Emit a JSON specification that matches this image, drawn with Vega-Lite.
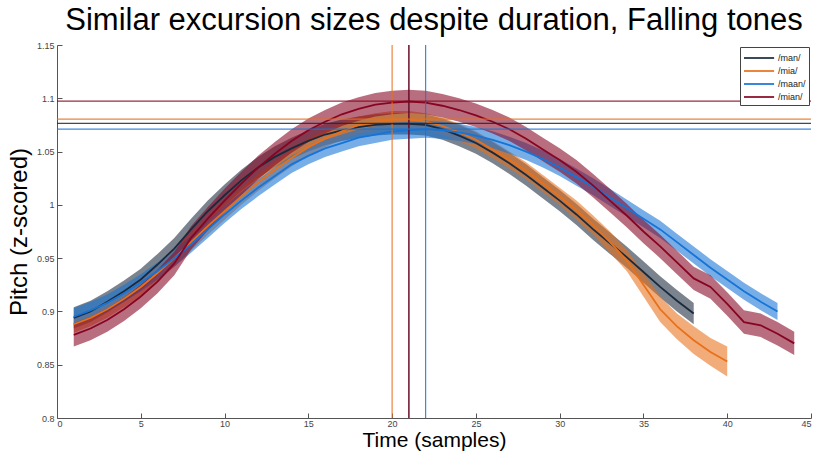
{
  "$schema": "https://vega.github.io/schema/vega-lite/v6.json",
  "width": 754,
  "height": 373,
  "autosize": {"type": "none"},
  "padding": {"left": 57, "top": 45, "right": 5, "bottom": 37},
  "background": "white",
  "config": {
    "font": "Liberation Sans",
    "view": {"stroke": null}
  },
  "title": {
    "text": "Similar excursion sizes despite duration, Falling tones",
    "fontSize": 31,
    "fontWeight": "normal",
    "color": "black",
    "anchor": "middle",
    "offset": 4
  },
  "datasets": {
    "curves": [
      {"s":"/man/","x":1,"y":0.894,"lo":0.884,"hi":0.904},
      {"s":"/man/","x":2,"y":0.900,"lo":0.890,"hi":0.910},
      {"s":"/man/","x":3,"y":0.909,"lo":0.899,"hi":0.919},
      {"s":"/man/","x":4,"y":0.919,"lo":0.909,"hi":0.929},
      {"s":"/man/","x":5,"y":0.930,"lo":0.920,"hi":0.940},
      {"s":"/man/","x":6,"y":0.944,"lo":0.934,"hi":0.954},
      {"s":"/man/","x":7,"y":0.959,"lo":0.949,"hi":0.969},
      {"s":"/man/","x":8,"y":0.977,"lo":0.967,"hi":0.987},
      {"s":"/man/","x":9,"y":0.994,"lo":0.984,"hi":1.004},
      {"s":"/man/","x":10,"y":1.009,"lo":0.999,"hi":1.019},
      {"s":"/man/","x":11,"y":1.023,"lo":1.013,"hi":1.033},
      {"s":"/man/","x":12,"y":1.035,"lo":1.025,"hi":1.045},
      {"s":"/man/","x":13,"y":1.045,"lo":1.035,"hi":1.055},
      {"s":"/man/","x":14,"y":1.053,"lo":1.043,"hi":1.063},
      {"s":"/man/","x":15,"y":1.060,"lo":1.050,"hi":1.070},
      {"s":"/man/","x":16,"y":1.066,"lo":1.056,"hi":1.076},
      {"s":"/man/","x":17,"y":1.070,"lo":1.060,"hi":1.080},
      {"s":"/man/","x":18,"y":1.073,"lo":1.063,"hi":1.083},
      {"s":"/man/","x":19,"y":1.075,"lo":1.065,"hi":1.085},
      {"s":"/man/","x":20,"y":1.076,"lo":1.066,"hi":1.086},
      {"s":"/man/","x":21,"y":1.076,"lo":1.066,"hi":1.086},
      {"s":"/man/","x":22,"y":1.075,"lo":1.065,"hi":1.085},
      {"s":"/man/","x":23,"y":1.071,"lo":1.061,"hi":1.081},
      {"s":"/man/","x":24,"y":1.065,"lo":1.055,"hi":1.075},
      {"s":"/man/","x":25,"y":1.058,"lo":1.048,"hi":1.068},
      {"s":"/man/","x":26,"y":1.049,"lo":1.039,"hi":1.059},
      {"s":"/man/","x":27,"y":1.039,"lo":1.029,"hi":1.049},
      {"s":"/man/","x":28,"y":1.028,"lo":1.018,"hi":1.038},
      {"s":"/man/","x":29,"y":1.016,"lo":1.006,"hi":1.026},
      {"s":"/man/","x":30,"y":1.004,"lo":0.994,"hi":1.014},
      {"s":"/man/","x":31,"y":0.991,"lo":0.981,"hi":1.001},
      {"s":"/man/","x":32,"y":0.977,"lo":0.967,"hi":0.987},
      {"s":"/man/","x":33,"y":0.964,"lo":0.954,"hi":0.974},
      {"s":"/man/","x":34,"y":0.951,"lo":0.941,"hi":0.961},
      {"s":"/man/","x":35,"y":0.937,"lo":0.927,"hi":0.947},
      {"s":"/man/","x":36,"y":0.923,"lo":0.913,"hi":0.933},
      {"s":"/man/","x":37,"y":0.910,"lo":0.900,"hi":0.920},
      {"s":"/man/","x":38,"y":0.898,"lo":0.888,"hi":0.908},

      {"s":"/mia/","x":1,"y":0.888,"lo":0.880,"hi":0.896},
      {"s":"/mia/","x":2,"y":0.894,"lo":0.886,"hi":0.902},
      {"s":"/mia/","x":3,"y":0.902,"lo":0.894,"hi":0.910},
      {"s":"/mia/","x":4,"y":0.912,"lo":0.904,"hi":0.920},
      {"s":"/mia/","x":5,"y":0.923,"lo":0.915,"hi":0.931},
      {"s":"/mia/","x":6,"y":0.936,"lo":0.928,"hi":0.944},
      {"s":"/mia/","x":7,"y":0.950,"lo":0.942,"hi":0.958},
      {"s":"/mia/","x":8,"y":0.965,"lo":0.957,"hi":0.973},
      {"s":"/mia/","x":9,"y":0.980,"lo":0.972,"hi":0.988},
      {"s":"/mia/","x":10,"y":0.994,"lo":0.986,"hi":1.002},
      {"s":"/mia/","x":11,"y":1.008,"lo":1.000,"hi":1.016},
      {"s":"/mia/","x":12,"y":1.021,"lo":1.013,"hi":1.029},
      {"s":"/mia/","x":13,"y":1.033,"lo":1.025,"hi":1.041},
      {"s":"/mia/","x":14,"y":1.044,"lo":1.036,"hi":1.052},
      {"s":"/mia/","x":15,"y":1.054,"lo":1.046,"hi":1.062},
      {"s":"/mia/","x":16,"y":1.062,"lo":1.054,"hi":1.070},
      {"s":"/mia/","x":17,"y":1.069,"lo":1.061,"hi":1.077},
      {"s":"/mia/","x":18,"y":1.075,"lo":1.067,"hi":1.083},
      {"s":"/mia/","x":19,"y":1.078,"lo":1.070,"hi":1.086},
      {"s":"/mia/","x":20,"y":1.080,"lo":1.072,"hi":1.088},
      {"s":"/mia/","x":21,"y":1.080,"lo":1.072,"hi":1.088},
      {"s":"/mia/","x":22,"y":1.078,"lo":1.070,"hi":1.086},
      {"s":"/mia/","x":23,"y":1.074,"lo":1.066,"hi":1.082},
      {"s":"/mia/","x":24,"y":1.068,"lo":1.060,"hi":1.076},
      {"s":"/mia/","x":25,"y":1.061,"lo":1.053,"hi":1.069},
      {"s":"/mia/","x":26,"y":1.052,"lo":1.044,"hi":1.060},
      {"s":"/mia/","x":27,"y":1.042,"lo":1.034,"hi":1.050},
      {"s":"/mia/","x":28,"y":1.032,"lo":1.024,"hi":1.040},
      {"s":"/mia/","x":29,"y":1.020,"lo":1.012,"hi":1.028},
      {"s":"/mia/","x":30,"y":1.008,"lo":1.000,"hi":1.016},
      {"s":"/mia/","x":31,"y":0.995,"lo":0.986,"hi":1.004},
      {"s":"/mia/","x":32,"y":0.981,"lo":0.972,"hi":0.990},
      {"s":"/mia/","x":33,"y":0.965,"lo":0.955,"hi":0.975},
      {"s":"/mia/","x":34,"y":0.948,"lo":0.938,"hi":0.958},
      {"s":"/mia/","x":35,"y":0.925,"lo":0.914,"hi":0.936},
      {"s":"/mia/","x":36,"y":0.902,"lo":0.890,"hi":0.914},
      {"s":"/mia/","x":37,"y":0.886,"lo":0.874,"hi":0.898},
      {"s":"/mia/","x":38,"y":0.873,"lo":0.860,"hi":0.886},
      {"s":"/mia/","x":39,"y":0.862,"lo":0.849,"hi":0.875},
      {"s":"/mia/","x":40,"y":0.853,"lo":0.839,"hi":0.867},

      {"s":"/maan/","x":1,"y":0.895,"lo":0.887,"hi":0.903},
      {"s":"/maan/","x":2,"y":0.901,"lo":0.893,"hi":0.909},
      {"s":"/maan/","x":3,"y":0.908,"lo":0.900,"hi":0.916},
      {"s":"/maan/","x":4,"y":0.917,"lo":0.909,"hi":0.925},
      {"s":"/maan/","x":5,"y":0.927,"lo":0.919,"hi":0.935},
      {"s":"/maan/","x":6,"y":0.938,"lo":0.930,"hi":0.946},
      {"s":"/maan/","x":7,"y":0.950,"lo":0.942,"hi":0.958},
      {"s":"/maan/","x":8,"y":0.963,"lo":0.955,"hi":0.971},
      {"s":"/maan/","x":9,"y":0.977,"lo":0.969,"hi":0.985},
      {"s":"/maan/","x":10,"y":0.991,"lo":0.983,"hi":0.999},
      {"s":"/maan/","x":11,"y":1.004,"lo":0.996,"hi":1.012},
      {"s":"/maan/","x":12,"y":1.016,"lo":1.008,"hi":1.024},
      {"s":"/maan/","x":13,"y":1.027,"lo":1.019,"hi":1.035},
      {"s":"/maan/","x":14,"y":1.038,"lo":1.030,"hi":1.046},
      {"s":"/maan/","x":15,"y":1.046,"lo":1.038,"hi":1.054},
      {"s":"/maan/","x":16,"y":1.053,"lo":1.045,"hi":1.061},
      {"s":"/maan/","x":17,"y":1.058,"lo":1.050,"hi":1.066},
      {"s":"/maan/","x":18,"y":1.063,"lo":1.055,"hi":1.071},
      {"s":"/maan/","x":19,"y":1.066,"lo":1.058,"hi":1.074},
      {"s":"/maan/","x":20,"y":1.069,"lo":1.061,"hi":1.077},
      {"s":"/maan/","x":21,"y":1.070,"lo":1.062,"hi":1.078},
      {"s":"/maan/","x":22,"y":1.071,"lo":1.063,"hi":1.079},
      {"s":"/maan/","x":23,"y":1.070,"lo":1.062,"hi":1.078},
      {"s":"/maan/","x":24,"y":1.068,"lo":1.060,"hi":1.076},
      {"s":"/maan/","x":25,"y":1.065,"lo":1.057,"hi":1.073},
      {"s":"/maan/","x":26,"y":1.061,"lo":1.053,"hi":1.069},
      {"s":"/maan/","x":27,"y":1.056,"lo":1.048,"hi":1.064},
      {"s":"/maan/","x":28,"y":1.050,"lo":1.042,"hi":1.058},
      {"s":"/maan/","x":29,"y":1.043,"lo":1.035,"hi":1.051},
      {"s":"/maan/","x":30,"y":1.035,"lo":1.027,"hi":1.043},
      {"s":"/maan/","x":31,"y":1.026,"lo":1.018,"hi":1.034},
      {"s":"/maan/","x":32,"y":1.017,"lo":1.009,"hi":1.025},
      {"s":"/maan/","x":33,"y":1.007,"lo":0.999,"hi":1.015},
      {"s":"/maan/","x":34,"y":0.997,"lo":0.989,"hi":1.005},
      {"s":"/maan/","x":35,"y":0.987,"lo":0.979,"hi":0.995},
      {"s":"/maan/","x":36,"y":0.977,"lo":0.969,"hi":0.985},
      {"s":"/maan/","x":37,"y":0.965,"lo":0.957,"hi":0.973},
      {"s":"/maan/","x":38,"y":0.953,"lo":0.945,"hi":0.961},
      {"s":"/maan/","x":39,"y":0.941,"lo":0.933,"hi":0.949},
      {"s":"/maan/","x":40,"y":0.930,"lo":0.922,"hi":0.938},
      {"s":"/maan/","x":41,"y":0.919,"lo":0.911,"hi":0.927},
      {"s":"/maan/","x":42,"y":0.909,"lo":0.901,"hi":0.917},
      {"s":"/maan/","x":43,"y":0.900,"lo":0.892,"hi":0.908},

      {"s":"/mian/","x":1,"y":0.878,"lo":0.867,"hi":0.889},
      {"s":"/mian/","x":2,"y":0.884,"lo":0.873,"hi":0.895},
      {"s":"/mian/","x":3,"y":0.892,"lo":0.881,"hi":0.903},
      {"s":"/mian/","x":4,"y":0.902,"lo":0.891,"hi":0.913},
      {"s":"/mian/","x":5,"y":0.914,"lo":0.903,"hi":0.925},
      {"s":"/mian/","x":6,"y":0.928,"lo":0.917,"hi":0.939},
      {"s":"/mian/","x":7,"y":0.945,"lo":0.934,"hi":0.956},
      {"s":"/mian/","x":8,"y":0.969,"lo":0.958,"hi":0.980},
      {"s":"/mian/","x":9,"y":0.987,"lo":0.976,"hi":0.998},
      {"s":"/mian/","x":10,"y":1.004,"lo":0.993,"hi":1.015},
      {"s":"/mian/","x":11,"y":1.020,"lo":1.009,"hi":1.031},
      {"s":"/mian/","x":12,"y":1.035,"lo":1.024,"hi":1.046},
      {"s":"/mian/","x":13,"y":1.048,"lo":1.037,"hi":1.059},
      {"s":"/mian/","x":14,"y":1.060,"lo":1.049,"hi":1.071},
      {"s":"/mian/","x":15,"y":1.070,"lo":1.059,"hi":1.081},
      {"s":"/mian/","x":16,"y":1.078,"lo":1.067,"hi":1.089},
      {"s":"/mian/","x":17,"y":1.085,"lo":1.074,"hi":1.096},
      {"s":"/mian/","x":18,"y":1.090,"lo":1.079,"hi":1.101},
      {"s":"/mian/","x":19,"y":1.094,"lo":1.083,"hi":1.105},
      {"s":"/mian/","x":20,"y":1.096,"lo":1.085,"hi":1.107},
      {"s":"/mian/","x":21,"y":1.097,"lo":1.086,"hi":1.108},
      {"s":"/mian/","x":22,"y":1.096,"lo":1.085,"hi":1.107},
      {"s":"/mian/","x":23,"y":1.093,"lo":1.082,"hi":1.104},
      {"s":"/mian/","x":24,"y":1.089,"lo":1.078,"hi":1.100},
      {"s":"/mian/","x":25,"y":1.084,"lo":1.073,"hi":1.095},
      {"s":"/mian/","x":26,"y":1.078,"lo":1.067,"hi":1.089},
      {"s":"/mian/","x":27,"y":1.071,"lo":1.060,"hi":1.082},
      {"s":"/mian/","x":28,"y":1.062,"lo":1.051,"hi":1.073},
      {"s":"/mian/","x":29,"y":1.052,"lo":1.041,"hi":1.063},
      {"s":"/mian/","x":30,"y":1.042,"lo":1.031,"hi":1.053},
      {"s":"/mian/","x":31,"y":1.031,"lo":1.020,"hi":1.042},
      {"s":"/mian/","x":32,"y":1.018,"lo":1.007,"hi":1.029},
      {"s":"/mian/","x":33,"y":1.004,"lo":0.993,"hi":1.015},
      {"s":"/mian/","x":34,"y":0.990,"lo":0.979,"hi":1.001},
      {"s":"/mian/","x":35,"y":0.975,"lo":0.964,"hi":0.986},
      {"s":"/mian/","x":36,"y":0.961,"lo":0.950,"hi":0.972},
      {"s":"/mian/","x":37,"y":0.946,"lo":0.935,"hi":0.957},
      {"s":"/mian/","x":38,"y":0.931,"lo":0.920,"hi":0.942},
      {"s":"/mian/","x":39,"y":0.923,"lo":0.912,"hi":0.934},
      {"s":"/mian/","x":40,"y":0.907,"lo":0.896,"hi":0.918},
      {"s":"/mian/","x":41,"y":0.890,"lo":0.879,"hi":0.901},
      {"s":"/mian/","x":42,"y":0.887,"lo":0.876,"hi":0.898},
      {"s":"/mian/","x":43,"y":0.879,"lo":0.868,"hi":0.890},
      {"s":"/mian/","x":44,"y":0.870,"lo":0.859,"hi":0.881}
    ],
    "peaks": [
      {"s":"/man/","px":21,"py":1.0765},
      {"s":"/mia/","px":20,"py":1.0805},
      {"s":"/maan/","px":22,"py":1.0711},
      {"s":"/mian/","px":21,"py":1.0974}
    ]
  },
  "layer": [
    {
      "data": {"name": "curves"},
      "mark": {"type": "area", "fillOpacity": 0.58, "strokeWidth": 0},
      "encoding": {
        "x": {"field": "x", "type": "quantitative",
              "scale": {"domain": [0, 45], "nice": false, "zero": false},
              "axis": {
                "title": "Time (samples)", "titleFontSize": 21, "titleFontWeight": "normal",
                "titleColor": "black", "titlePadding": 1,
                "values": [0,5,10,15,20,25,30,35,40,45], "format": "~g",
                "labelFontSize": 9, "labelColor": "#444", "labelPadding": 6,
                "tickSize": -5, "tickColor": "#555", "domainColor": "#555",
                "grid": false
              }},
        "y": {"field": "lo", "type": "quantitative",
              "scale": {"domain": [0.8, 1.15], "nice": false, "zero": false},
              "axis": {
                "title": "Pitch (z-scored)", "titleFontSize": 24, "titleFontWeight": "normal",
                "titleColor": "black", "titlePadding": 5,
                "values": [0.8,0.85,0.9,0.95,1,1.05,1.1,1.15], "format": "~g",
                "labelFontSize": 9, "labelColor": "#444", "labelPadding": 8,
                "tickSize": -5, "tickColor": "#555", "domainColor": "#555",
                "grid": false
              }},
        "y2": {"field": "hi"},
        "color": {"field": "s", "type": "nominal",
                  "scale": {"domain": ["/man/","/mia/","/maan/","/mian/"],
                            "range": ["#1a2a3c","#e8701a","#1574d6","#870522"]},
                  "legend": {
                     "title": null, "orient": "top-right", "offset": 2,
                     "symbolType": "M-1,0H3.3", "symbolSize": 196, "symbolStrokeWidth": 2,
                     "symbolOpacity": 1, "symbolFillColor": "transparent",
                     "labelFontSize": 9, "labelColor": "#222", "rowPadding": 0,
                     "labelExpr": "datum.label + '   '",
                     "strokeColor": "#444", "fillColor": "white", "padding": 3,
                     "labelOffset": 19
                  }}
      }
    },
    {
      "data": {"name": "curves"},
      "mark": {"type": "line", "strokeWidth": 1.8},
      "encoding": {
        "x": {"field": "x", "type": "quantitative"},
        "y": {"field": "y", "type": "quantitative"},
        "color": {"field": "s", "type": "nominal"}
      }
    },
    {
      "data": {"name": "peaks"},
      "mark": {"type": "rule", "strokeWidth": 1.2, "opacity": 0.85},
      "encoding": {
        "x": {"field": "px", "type": "quantitative"},
        "color": {"field": "s", "type": "nominal"}
      }
    },
    {
      "data": {"name": "peaks"},
      "mark": {"type": "rule", "strokeWidth": 1.2, "opacity": 0.85},
      "encoding": {
        "y": {"field": "py", "type": "quantitative"},
        "color": {"field": "s", "type": "nominal"}
      }
    }
  ]
}
